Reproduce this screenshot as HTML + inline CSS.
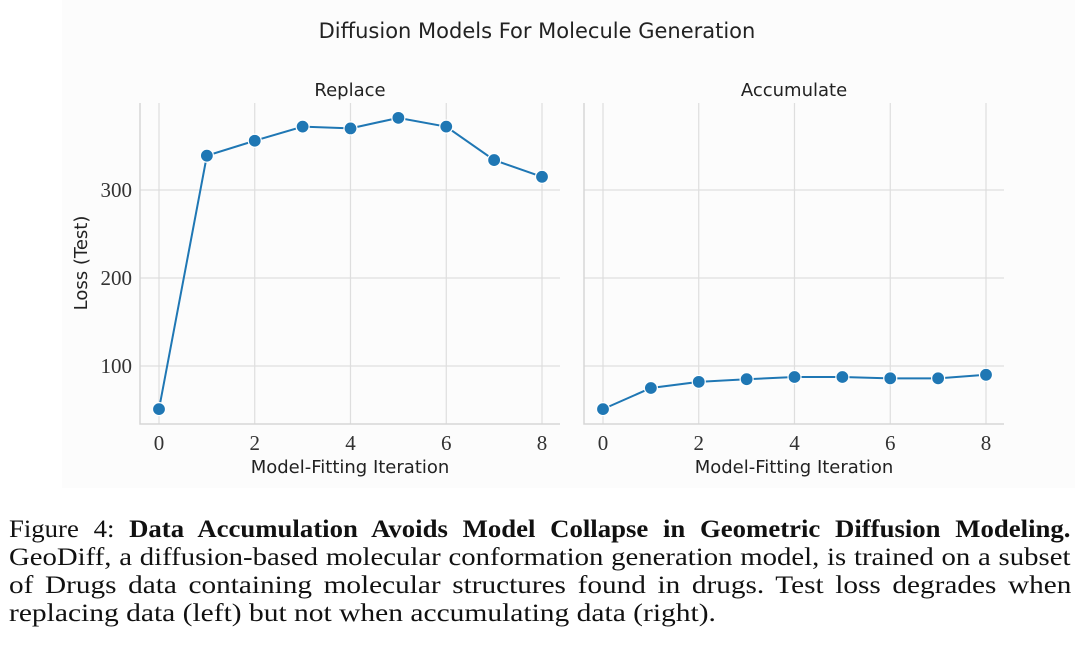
<!DOCTYPE html>
<html><head><meta charset="utf-8"><style>
body{margin:0;width:1080px;height:652px;background:#fff;overflow:hidden;font-family:"Liberation Sans",sans-serif}
#cap{position:absolute;left:9px;top:516px;width:1062px;font-family:"Liberation Serif",serif;font-size:25px;line-height:28px;color:#111}
#cap div{text-align:justify;text-align-last:justify;white-space:nowrap;transform-origin:0 0}
#cap div.last{text-align-last:left}
</style></head><body>
<svg id="fig" width="1080" height="652" style="position:absolute;left:0;top:0">
<rect x="62" y="0" width="1013" height="488" fill="#fcfcfc"/>
<text x="537" y="38" text-anchor="middle" font-size="21" fill="#222" font-family="DejaVu Sans, sans-serif">Diffusion Models For Molecule Generation</text>
<g id="plots"></g>
</svg>
<div id="cap">
<div style="width:992px;transform:scaleX(1.07)">Figure 4: <b>Data Accumulation Avoids Model Collapse in Geometric Diffusion Modeling.</b></div>
<div style="width:923px;transform:scaleX(1.15)">GeoDiff, a diffusion-based molecular conformation generation model, is trained on a subset</div>
<div style="width:908px;transform:scaleX(1.17)">of Drugs data containing molecular structures found in drugs. Test loss degrades when</div>
<div class="last" style="width:900px;transform:scaleX(1.18)">replacing data (left) but not when accumulating data (right).</div>
</div>
<script>
const iterations=[0,1,2,3,4,5,6,7,8];
const replaceLoss=[51,339,356,372,370,382,372,334,315];
const accumulateLoss=[51,75,82,85,87.5,87.5,86,86,90];
const xTicks=[0,2,4,6,8];
const yTicks=[100,200,300];
const NS="http://www.w3.org/2000/svg";
const g=document.getElementById('plots');
function el(t,a,p){const e=document.createElementNS(NS,t);for(const k in a)e.setAttribute(k,a[k]);(p||g).appendChild(e);return e;}
const yScale=v=>454-v*0.88;
function panel(x0,title,vals,name,showY){
  const x1=x0+420,yTop=103,yBot=424;
  const xs=v=>x0+19+v*47.875;
  const grp=el('g',{});
  
  
  xTicks.forEach(t=>{
    const l=el('line',{x1:xs(t),x2:xs(t),y1:yTop,y2:yBot,stroke:'#dedede','stroke-width':1.2},grp);
    
    const tx=el('text',{x:xs(t),y:450,'text-anchor':'middle','font-size':21,fill:'#333','font-family':'Liberation Serif, serif'},grp);
    tx.textContent=t;
  });
  yTicks.forEach(t=>{
    const l=el('line',{x1:x0,x2:x1,y1:yScale(t),y2:yScale(t),stroke:'#dedede','stroke-width':1.2},grp);
    
    if(showY){const tx=el('text',{x:x0-8,y:yScale(t)+7,'text-anchor':'end','font-size':21,fill:'#333','font-family':'Liberation Serif, serif'},grp);
    tx.textContent=t;}
  });
  const sp=el('path',{d:`M${x0},${yTop}V${yBot}H${x1}`,fill:'none',stroke:'#d6d6d6','stroke-width':1.5},grp);
  
  const tt=el('text',{x:(x0+x1)/2,y:96,'text-anchor':'middle','font-size':18,fill:'#222','font-family':'DejaVu Sans, sans-serif'},grp);
  tt.textContent=title;
  const xl=el('text',{x:(x0+x1)/2,y:473,'text-anchor':'middle','font-size':18,fill:'#222','font-family':'DejaVu Sans, sans-serif'},grp);
  xl.textContent='Model-Fitting Iteration';
  const pts=iterations.map((v,i)=>xs(v)+','+yScale(vals[i])).join(' ');
  const pl=el('polyline',{points:pts,fill:'none',stroke:'#1f77b4','stroke-width':2},grp);
  
  iterations.forEach((v,i)=>{
    const c=el('circle',{cx:xs(v),cy:yScale(vals[i]),r:6.5,fill:'#1f77b4',stroke:'#fff','stroke-width':1.2},grp);
    
  });
}
panel(140,'Replace',replaceLoss,'replace',true);
panel(584,'Accumulate',accumulateLoss,'accumulate',false);
const yl=el('text',{x:0,y:0,'text-anchor':'middle','font-size':18,fill:'#222','font-family':'DejaVu Sans, sans-serif',transform:'translate(87,263) rotate(-90)'});
yl.textContent='Loss (Test)';


</script>
</body></html>
